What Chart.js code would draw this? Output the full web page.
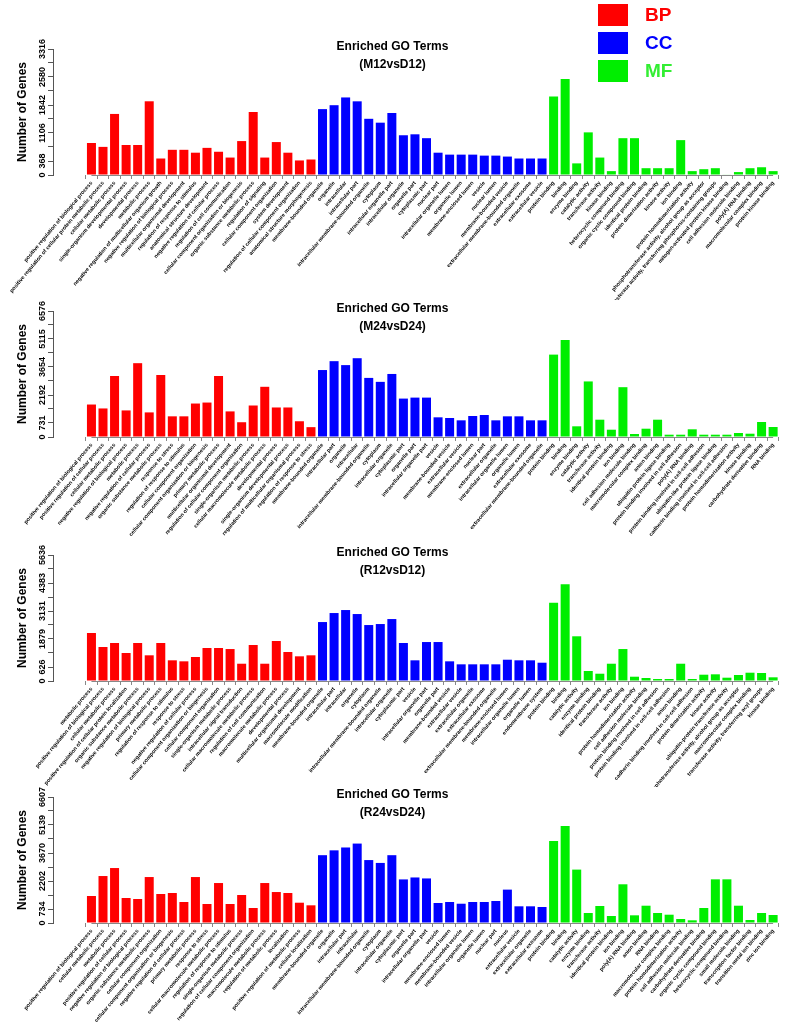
<!DOCTYPE html>
<html>
<head>
<meta charset="utf-8">
<script src="https://cdn.jsdelivr.net/npm/chart.js@4.4.0/dist/chart.umd.min.js"></script>
<style>
html, body { margin: 0; padding: 0; background: #fff; }
#page { position: relative; width: 787px; height: 1023px; overflow: hidden; }
.panel { position: absolute; left: 0; }
#legend { position: absolute; left: 598px; top: 1px; font-family: "Liberation Sans", Arial, sans-serif; font-weight: bold; font-size: 19px; }
.key { display: flex; align-items: center; height: 28px; }
.sw { width: 30px; height: 22px; margin-right: 17px; }
</style>
</head>
<body>
<div id="page">
  <canvas id="p1" class="panel"></canvas>
  <canvas id="p2" class="panel"></canvas>
  <canvas id="p3" class="panel"></canvas>
  <canvas id="p4" class="panel"></canvas>
  <div id="legend">
    <div class="key"><div class="sw" style="background:#ff0000"></div><span style="color:#ff0000">BP</span></div>
    <div class="key"><div class="sw" style="background:#0000ff"></div><span style="color:#0000ff">CC</span></div>
    <div class="key"><div class="sw" style="background:#00ee00"></div><span style="color:#33ee33">MF</span></div>
  </div>
</div>
<script>
// ---- M12vsD12 ----
var m12BpLabels = ['positive regulation of biological process', 'positive regulation of cellular protein metabolic process', 'cellular metabolic process', 'single-organism developmental process', 'developmental process', 'metabolic process', 'negative regulation of multicellular organism growth', 'negative regulation of biological process', 'multicellular organismal development', 'regulation of response to stimulus', 'anatomical structure development', 'negative regulation of cellular process', 'regulation of cell communication', 'cellular component organization or biogenesis', 'organic substance metabolic process', 'regulation of signaling', 'cellular component organization', 'system development', 'regulation of cellular component organization', 'anatomical structure morphogenesis'];
var m12CcLabels = ['membrane-bounded organelle', 'organelle', 'intracellular', 'intracellular part', 'intracellular membrane-bounded organelle', 'cytoplasm', 'intracellular organelle part', 'intracellular organelle', 'organelle part', 'cytoplasmic part', 'nuclear part', 'intracellular organelle lumen', 'organelle lumen', 'membrane-enclosed lumen', 'vesicle', 'nuclear lumen', 'membrane-bounded vesicle', 'extracellular membrane-bounded organelle', 'extracellular exosome', 'extracellular vesicle'];
var m12MfLabels = ['protein binding', 'binding', 'enzyme binding', 'catalytic activity', 'transferase activity', 'kinase binding', 'heterocyclic compound binding', 'organic cyclic compound binding', 'identical protein binding', 'protein dimerization activity', 'kinase activity', 'ion binding', 'protein homodimerization activity', 'phosphotransferase activity, alcohol group as acceptor', 'transferase activity, transferring phosphorus-containing groups', 'mitogen-activated protein kinase binding', 'cell adhesion molecule binding', 'poly(A) RNA binding', 'macromolecular complex binding', 'protein kinase binding'];
var m12Bp = [842, 740, 1607, 790, 790, 1940, 434, 663, 663, 587, 714, 612, 459, 893, 1658, 459, 867, 587, 383, 408];
var m12Cc = [1734, 1837, 2041, 1939, 1479, 1377, 1632, 1046, 1071, 969, 587, 536, 536, 536, 510, 510, 485, 434, 434, 434];
var m12Mf = [2066, 2525, 306, 1122, 459, 102, 969, 969, 179, 179, 179, 918, 102, 153, 179, 15, 77, 179, 204, 102];
var m12Ticks = [0, 368, 1106, 1842, 2580, 3316];

// ---- M24vsD24 ----
var m24BpLabels = ['positive regulation of biological process', 'positive regulation of cellular process', 'cellular metabolic process', 'negative regulation of biological process', 'metabolic process', 'negative regulation of cellular process', 'organic substance metabolic process', 'response to stress', 'regulation of response to stimulus', 'cellular component organization', 'cellular component organization or biogenesis', 'primary metabolic process', 'multicellular organismal development', 'regulation of cellular component organization', 'single-organism metabolic process', 'cellular macromolecule metabolic process', 'developmental process', 'single-organism developmental process', 'regulation of multicellular organismal process', 'regulation of response to stress'];
var m24CcLabels = ['membrane-bounded organelle', 'intracellular part', 'organelle', 'intracellular', 'intracellular membrane-bounded organelle', 'cytoplasm', 'intracellular organelle', 'cytoplasmic part', 'organelle part', 'intracellular organelle part', 'vesicle', 'membrane-bounded vesicle', 'extracellular vesicle', 'membrane-enclosed lumen', 'nuclear part', 'extracellular organelle', 'intracellular organelle lumen', 'organelle lumen', 'extracellular exosome', 'extracellular membrane-bounded organelle'];
var m24MfLabels = ['protein binding', 'binding', 'enzyme binding', 'catalytic activity', 'transferase activity', 'identical protein binding', 'ion binding', 'cell adhesion molecule binding', 'macromolecular complex binding', 'anion binding', 'ubiquitin protein ligase binding', 'protein binding involved in cell adhesion', 'poly(A) RNA binding', 'protein binding involved in cell-cell adhesion', 'ubiquitin-like protein ligase binding', 'cadherin binding involved in cell-cell adhesion', 'protein homodimerization activity', 'kinase binding', 'carbohydrate derivative binding', 'RNA binding'];
var m24Bp = [1695, 1490, 3185, 1387, 3853, 1284, 3237, 1079, 1079, 1747, 1798, 3185, 1336, 771, 1644, 2620, 1541, 1541, 822, 514];
var m24Cc = [3495, 3958, 3752, 4112, 3084, 2878, 3290, 2005, 2056, 2056, 1027, 992, 870, 1096, 1148, 870, 1079, 1079, 870, 870];
var m24Mf = [4300, 5058, 558, 2900, 903, 381, 2600, 157, 433, 903, 120, 120, 402, 120, 120, 120, 209, 172, 783, 522];
var m24Ticks = [0, 731, 2192, 3654, 5115, 6576];

// ---- R12vsD12 ----
var r12BpLabels = ['metabolic process', 'positive regulation of biological process', 'cellular metabolic process', 'positive regulation of cellular protein localization', 'organic substance metabolic process', 'negative regulation of biological process', 'primary metabolic process', 'regulation of response to stimulus', 'response to stress', 'negative regulation of cellular process', 'cellular component organization or biogenesis', 'cellular component organization', 'single-organism metabolic process', 'intracellular signal transduction', 'cellular macromolecule metabolic process', 'regulation of cell communication', 'macromolecule metabolic process', 'developmental process', 'multicellular organismal development', 'macromolecule modification'];
var r12CcLabels = ['membrane-bounded organelle', 'intracellular part', 'intracellular', 'organelle', 'cytoplasm', 'intracellular membrane-bounded organelle', 'intracellular organelle', 'cytoplasmic part', 'vesicle', 'intracellular organelle part', 'organelle part', 'membrane-bounded vesicle', 'extracellular vesicle', 'extracellular organelle', 'extracellular exosome', 'extracellular membrane-bounded organelle', 'membrane-enclosed lumen', 'intracellular organelle lumen', 'organelle lumen', 'endomembrane system'];
var r12MfLabels = ['protein binding', 'binding', 'catalytic activity', 'enzyme binding', 'identical protein binding', 'transferase activity', 'ion binding', 'protein homodimerization activity', 'cell adhesion molecule binding', 'protein binding involved in cell adhesion', 'protein binding involved in cell-cell adhesion', 'anion binding', 'cadherin binding involved in cell-cell adhesion', 'protein dimerization activity', 'kinase activity', 'ubiquitin-protein transferase activity', 'phosphotransferase activity, alcohol group as acceptor', 'macromolecular complex binding', 'transferase activity, transferring acyl groups', 'kinase binding'];
var r12Bp = [2146, 1520, 1700, 1252, 1700, 1149, 1700, 925, 880, 1073, 1475, 1475, 1430, 773, 1610, 773, 1788, 1296, 1104, 1149];
var r12Cc = [2637, 3040, 3174, 2995, 2503, 2548, 2771, 1699, 925, 1743, 1743, 880, 746, 746, 746, 746, 952, 925, 925, 818];
var r12Mf = [3500, 4330, 2000, 447, 326, 773, 1430, 192, 134, 89, 89, 773, 89, 282, 299, 148, 268, 371, 358, 165];
var r12Ticks = [0, 626, 1879, 3131, 4383, 5636];

// ---- R24vsD24 ----
var r24BpLabels = ['positive regulation of biological process', 'cellular metabolic process', 'metabolic process', 'positive regulation of cellular process', 'negative regulation of biological process', 'organic substance metabolic process', 'cellular component organization', 'cellular component organization or biogenesis', 'negative regulation of cellular process', 'primary metabolic process', 'response to stress', 'cellular macromolecule metabolic process', 'regulation of response to stimulus', 'single-organism metabolic process', 'regulation of cellular component organization', 'macromolecule metabolic process', 'regulation of metabolic process', 'localization', 'positive regulation of metabolic process', 'cellular localization'];
var r24CcLabels = ['membrane-bounded organelle', 'organelle', 'intracellular part', 'intracellular', 'intracellular membrane-bounded organelle', 'cytoplasm', 'intracellular organelle', 'cytoplasmic part', 'organelle part', 'intracellular organelle part', 'vesicle', 'membrane-enclosed lumen', 'membrane-bounded vesicle', 'intracellular organelle lumen', 'organelle lumen', 'nuclear part', 'nucleus', 'extracellular vesicle', 'extracellular organelle', 'extracellular exosome'];
var r24MfLabels = ['protein binding', 'binding', 'catalytic activity', 'enzyme binding', 'transferase activity', 'identical protein binding', 'ion binding', 'poly(A) RNA binding', 'anion binding', 'RNA binding', 'macromolecular complex binding', 'protein homodimerization activity', 'cell adhesion molecule binding', 'carbohydrate derivative binding', 'organic cyclic compound binding', 'heterocyclic compound binding', 'small molecule binding', 'transcription factor binding', 'transition metal ion binding', 'zinc ion binding'];
var r24Bp = [1415, 2463, 2882, 1310, 1258, 2410, 1520, 1572, 1100, 2410, 996, 2096, 996, 1467, 786, 2096, 1624, 1572, 1064, 927];
var r24Cc = [3556, 3810, 3960, 4165, 3300, 3150, 3556, 2286, 2388, 2337, 1048, 1100, 1011, 1100, 1100, 1153, 1750, 875, 875, 838];
var r24Mf = [4300, 5082, 2800, 524, 891, 367, 2030, 403, 907, 524, 435, 210, 141, 786, 2290, 2290, 907, 157, 524, 419];
var r24Ticks = [0, 734, 2202, 3670, 5139, 6607];

var RED = '#ff0000', BLUE = '#0000ff', GREEN = '#00ee00';
Chart.defaults.font.family = '"Liberation Sans", Arial, sans-serif';
Chart.defaults.color = '#000';

// axis line like R's axis(1): only from the first to the last tick
var xAxisLine = {
  id: 'xAxisLine',
  afterDraw: function(chart) {
    var sx = chart.scales.x, ctx = chart.ctx;
    var n = sx.ticks.length;
    ctx.save();
    ctx.strokeStyle = '#888';
    ctx.lineWidth = 1;
    ctx.beginPath();
    ctx.moveTo(sx.getPixelForTick(0), Math.round(sx.top) + 0.5);
    ctx.lineTo(sx.getPixelForTick(n - 1), Math.round(sx.top) + 0.5);
    ctx.stroke();
    ctx.restore();
  }
};

// geo: canvas top/height, y of zero line, plot height, y of first title line (all px)
function makePanel(id, geo, subtitle, bpL, ccL, mfL, bp, cc, mf, yTicks) {
  var names = bpL.concat(ccL, mfL);
  function pts(vals, off) {
    return vals.map(function(v, i) { return {x: off + i + 1, y: v}; });
  }
  // R drops the labels that would overlap, but keeps the tick marks in between
  var tickMarks = [yTicks[0], yTicks[1]];
  for (var k = 2; k < yTicks.length; k++) {
    tickMarks.push(Math.round((yTicks[k - 1] + yTicks[k]) / 2), yTicks[k]);
  }
  var canvas = document.getElementById(id);
  canvas.width = 787;
  canvas.height = geo.height;
  canvas.style.top = geo.top + 'px';
  var zero = geo.zero - geo.top;
  var chartTop = zero - geo.plotH;
  var titleTop = geo.titleY - geo.top - 9;

  new Chart(canvas, {
    type: 'bar',
    data: {
      datasets: [
        {label: 'BP', data: pts(bp, 0), backgroundColor: RED},
        {label: 'CC', data: pts(cc, bpL.length), backgroundColor: BLUE},
        {label: 'MF', data: pts(mf, bpL.length + ccL.length), backgroundColor: GREEN}
      ]
    },
    plugins: [xAxisLine],
    options: {
      responsive: false,
      animation: false,
      layout: {padding: {left: 0, right: 2, top: 0, bottom: 0}},
      datasets: {bar: {grouped: false, barPercentage: 0.78, categoryPercentage: 1}},
      plugins: {
        legend: {display: false},
        tooltip: {enabled: false},
        title: {
          display: true,
          text: ['Enriched GO Terms', subtitle],
          color: '#000',
          font: {size: 12, weight: 'bold', lineHeight: 1.5},
          padding: {top: titleTop, bottom: chartTop - titleTop - 36}
        }
      },
      scales: {
        x: {
          type: 'linear',
          min: -1.8,
          max: names.length + 0.5,
          afterBuildTicks: function(s) {
            s.ticks = names.map(function(n, i) { return {value: i + 1}; });
          },
          afterFit: function(s) { s.height = geo.height - zero; },
          ticks: {
            autoSkip: false, minRotation: 50, maxRotation: 50, padding: 1,
            font: {size: 5.4, weight: 'bold'}, color: '#000',
            callback: function(v) { return names[v - 1]; }
          },
          grid: {drawOnChartArea: false, drawTicks: true, tickLength: 4, color: '#888'},
          border: {display: false}
        },
        y: {
          min: 0,
          max: yTicks[yTicks.length - 1],
          afterBuildTicks: function(s) {
            s.ticks = tickMarks.map(function(t) { return {value: t}; });
          },
          afterFit: function(s) { s.width = 53; },
          ticks: {
            autoSkip: false,
            minRotation: 90, maxRotation: 90, crossAlign: 'center', padding: -5,
            font: {size: 9, weight: 'bold'}, color: '#000',
            callback: function(v) { return yTicks.indexOf(v) >= 0 ? String(v) : ''; }
          },
          grid: {drawOnChartArea: false, drawTicks: true, tickLength: 5, color: '#555'},
          border: {display: true, color: '#555'},
          title: {
            display: true, text: 'Number of Genes', color: '#000',
            font: {size: 12, weight: 'bold'}, padding: {top: 15, bottom: 0}
          }
        }
      }
    }
  });
}

makePanel('p1', {top: 0, height: 300, zero: 175, plotH: 126, titleY: 47}, '(M12vsD12)',
  m12BpLabels, m12CcLabels, m12MfLabels, m12Bp, m12Cc, m12Mf, m12Ticks);
makePanel('p2', {top: 290, height: 250, zero: 437, plotH: 126, titleY: 309}, '(M24vsD24)',
  m24BpLabels, m24CcLabels, m24MfLabels, m24Bp, m24Cc, m24Mf, m24Ticks);
makePanel('p3', {top: 537, height: 250, zero: 681, plotH: 126, titleY: 553}, '(R12vsD12)',
  r12BpLabels, r12CcLabels, r12MfLabels, r12Bp, r12Cc, r12Mf, r12Ticks);
makePanel('p4', {top: 780, height: 243, zero: 923, plotH: 126, titleY: 795}, '(R24vsD24)',
  r24BpLabels, r24CcLabels, r24MfLabels, r24Bp, r24Cc, r24Mf, r24Ticks);
</script>
</body>
</html>
